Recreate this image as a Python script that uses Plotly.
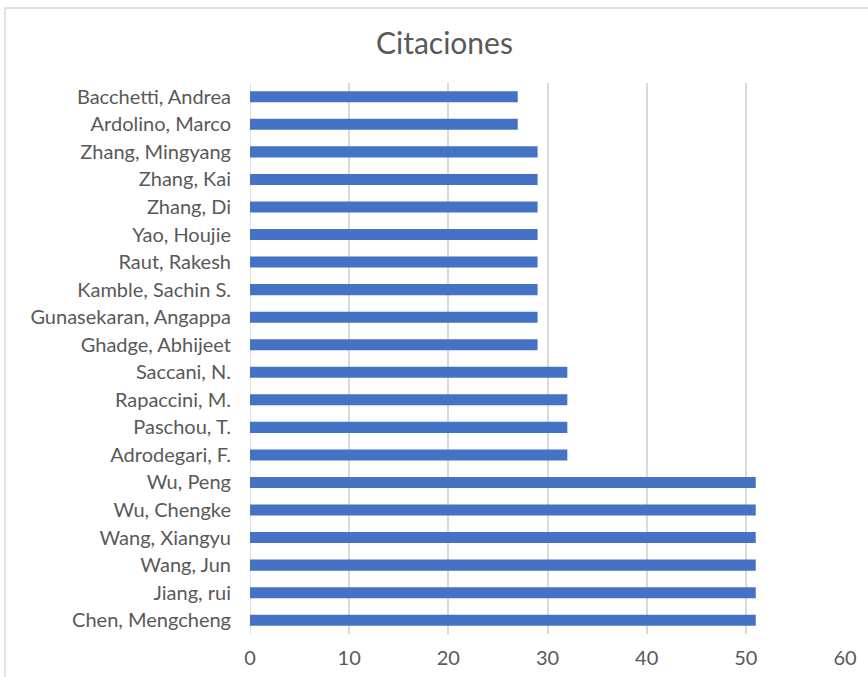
import plotly.graph_objects as go

# Authors ordered bottom to top on the category axis
authors = [
    "Chen, Mengcheng", "Jiang, rui", "Wang, Jun", "Wang, Xiangyu", "Wu, Chengke",
    "Wu, Peng", "Adrodegari, F.", "Paschou, T.", "Rapaccini, M.", "Saccani, N.",
    "Ghadge, Abhijeet", "Gunasekaran, Angappa", "Kamble, Sachin S.", "Raut, Rakesh",
    "Yao, Houjie", "Zhang, Di", "Zhang, Kai", "Zhang, Mingyang", "Ardolino, Marco",
    "Bacchetti, Andrea",
]
citations = [51, 51, 51, 51, 51, 51, 32, 32, 32, 32,
             29, 29, 29, 29, 29, 29, 29, 29, 27, 27]
x_ticks = [0, 10, 20, 30, 40, 50, 60]

text_gray = "#595959"
grid_gray = "#d9d9d9"
font_family = "Lato, 'Open Sans', sans-serif"

fig = go.Figure(
    go.Bar(
        x=citations,
        y=authors,
        orientation="h",
        marker=dict(color="#4472C4", line=dict(width=0)),
        hoverinfo="x+y",
    )
)

fig.update_layout(
    width=868,
    height=677,
    margin=dict(l=250, r=23, t=83, b=43),
    paper_bgcolor="white",
    plot_bgcolor="white",
    bargap=0.6,
    showlegend=False,
    font=dict(family=font_family, color=text_gray, size=20),
    title=dict(
        text="Citaciones",
        x=0.512,
        xanchor="center",
        y=0.936,
        yanchor="middle",
        font=dict(size=30, color=text_gray, family=font_family),
    ),
    xaxis=dict(
        range=[0, 60],
        tickvals=x_ticks,
        showgrid=True,
        gridcolor=grid_gray,
        gridwidth=1.5,
        zeroline=False,
        showline=False,
        ticks="",
        ticklabelstandoff=10,
        automargin=False,
        tickfont=dict(size=20, color=text_gray),
    ),
    yaxis=dict(
        categoryorder="array",
        categoryarray=authors,
        showgrid=False,
        zeroline=False,
        showline=False,
        ticks="",
        ticklabelstandoff=18,
        automargin=False,
        tickfont=dict(size=20, color=text_gray),
    ),
    shapes=[
        # chart-area frame
        dict(
            type="rect",
            xref="paper", yref="paper",
            x0=-0.4118, x1=1.04, y0=-0.1, y1=1.136,
            line=dict(color=grid_gray, width=1.5),
            fillcolor="rgba(0,0,0,0)",
            layer="below",
        ),
        # value axis baseline at zero
        dict(
            type="line",
            xref="x", yref="paper",
            x0=0, x1=0, y0=0, y1=1,
            line=dict(color=grid_gray, width=1.5),
            layer="below",
        ),
    ],
)

fig.write_html("out.html")
